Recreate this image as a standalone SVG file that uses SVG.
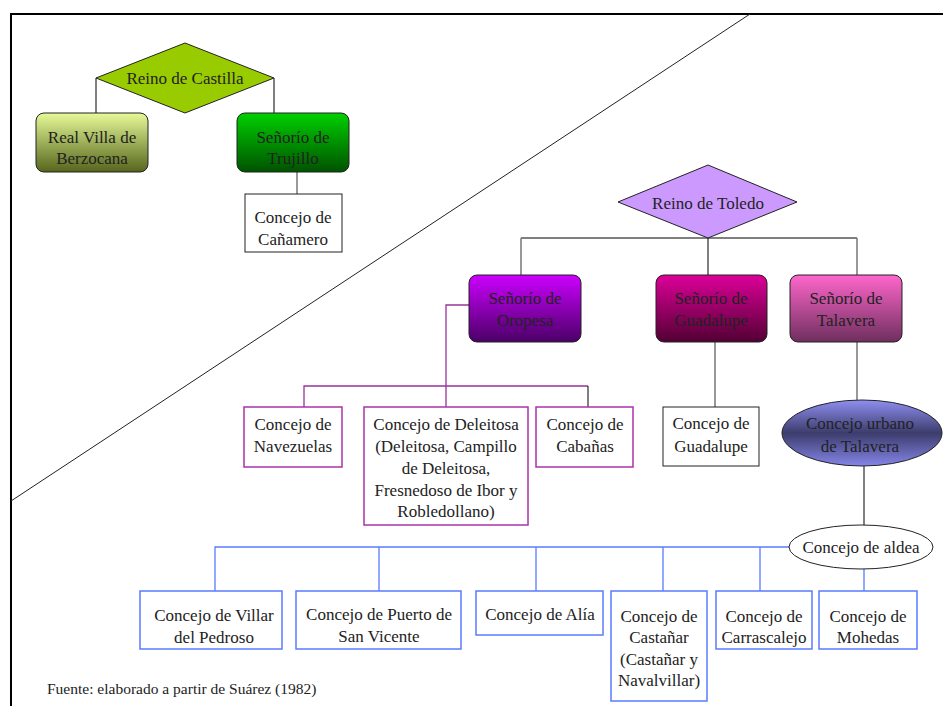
<svg xmlns="http://www.w3.org/2000/svg" width="943" height="706" viewBox="0 0 943 706">
<style>
text{font-family:"Liberation Serif","Times New Roman",serif;font-size:17px;fill:#222;text-anchor:middle}
.blk{fill:none;stroke:#000;stroke-width:1}
.gry{fill:none;stroke:#777;stroke-width:1.5}
.pur{fill:none;stroke:#993399;stroke-width:1.3}
.blu{fill:none;stroke:#5a7bff;stroke-width:1.3}
.rb{stroke:#222;stroke-width:1}
.wbox{fill:#fff;stroke:#222;stroke-width:1}
.pbox{fill:#fff;stroke:#aa33aa;stroke-width:1.5}
.bbox{fill:#fff;stroke:#5a7bff;stroke-width:1.5}
</style>
<defs>
<linearGradient id="gVilla" x1="0" y1="0" x2="0" y2="1"><stop offset="0" stop-color="#e6fa98"/><stop offset="1" stop-color="#56651c"/></linearGradient>
<linearGradient id="gTruj" x1="0" y1="0" x2="0" y2="1"><stop offset="0" stop-color="#00d000"/><stop offset="1" stop-color="#005200"/></linearGradient>
<linearGradient id="gOro" x1="0" y1="0" x2="0" y2="1"><stop offset="0" stop-color="#cc00ff"/><stop offset="1" stop-color="#4a0066"/></linearGradient>
<linearGradient id="gGua" x1="0" y1="0" x2="0" y2="1"><stop offset="0" stop-color="#dd0099"/><stop offset="1" stop-color="#520033"/></linearGradient>
<linearGradient id="gTal" x1="0" y1="0" x2="0" y2="1"><stop offset="0" stop-color="#ff66cc"/><stop offset="1" stop-color="#6e2f5e"/></linearGradient>
<linearGradient id="gUrb" x1="0" y1="0" x2="0" y2="1"><stop offset="0" stop-color="#8f8ff2"/><stop offset="0.5" stop-color="#3c3c6c"/><stop offset="1" stop-color="#8585e8"/></linearGradient>
</defs>
<rect width="943" height="706" fill="#fff"/>
<g id="frame">
<path d="M11 706 V14 H943" fill="none" stroke="#000" stroke-width="2"/>
<line x1="11" y1="501" x2="750" y2="14" stroke="#222" stroke-width="1"/>
</g>
<g id="connectors">
<path class="blk" d="M96 78 V113 M274 78 V113"/>
<path class="gry" d="M297 172 V194"/>
<path class="blk" d="M521 238 H857 M708 238 V275"/>
<path class="gry" d="M521 238 V275 M857 238 V275"/>
<path class="pur" d="M469 305 H446 V407 M304 407 V386 H588"/>
<path class="blk" d="M588 386 V407"/>
<path class="gry" d="M715 342 V407 M857 342 V400"/>
<path class="blk" d="M864 466 V525"/>
<path class="blu" d="M789 547 H215 V591 M379 547 V591 M536 547 V591 M663 547 V591 M760 547 V591 M864 569 V591"/>
</g>
<g id="castilla">
<polygon points="96,78 185,43 274,78 185,113" fill="#99cc00" class="rb"/>
<text x="185" y="84">Reino de Castilla</text>
</g>
<g id="berzocana">
<rect x="36" y="113" width="112" height="59" rx="8" fill="url(#gVilla)" class="rb"/>
<text x="92" y="143">Real Villa de</text>
<text x="92" y="164">Berzocana</text>
</g>
<g id="trujillo">
<rect x="237" y="113" width="112" height="59" rx="8" fill="url(#gTruj)" class="rb"/>
<text x="293" y="143">Señorío de</text>
<text x="293" y="164">Trujillo</text>
</g>
<g id="canamero">
<rect x="245" y="194" width="97" height="58" class="wbox"/>
<text x="293" y="223">Concejo de</text>
<text x="293" y="245">Cañamero</text>
</g>
<g id="toledo">
<polygon points="618,202 708,165 797,202 708,238" fill="#cc99ff" class="rb"/>
<text x="708" y="209">Reino de Toledo</text>
</g>
<g id="oropesa">
<rect x="469" y="275" width="112" height="67" rx="8" fill="url(#gOro)" class="rb"/>
<text x="525" y="304">Señorío de</text>
<text x="525" y="326">Oropesa</text>
</g>
<g id="guadalupe">
<rect x="656" y="275" width="111" height="67" rx="8" fill="url(#gGua)" class="rb"/>
<text x="711" y="304">Señorío de</text>
<text x="711" y="326">Guadalupe</text>
</g>
<g id="talavera">
<rect x="790" y="275" width="112" height="67" rx="8" fill="url(#gTal)" class="rb"/>
<text x="846" y="304">Señorío de</text>
<text x="846" y="326">Talavera</text>
</g>
<g id="navezuelas">
<rect x="244" y="407" width="98" height="60" class="pbox"/>
<text x="293" y="430">Concejo de</text>
<text x="293" y="452">Navezuelas</text>
</g>
<g id="deleitosa">
<rect x="364" y="407" width="164" height="118" class="pbox"/>
<text x="446" y="430">Concejo de Deleitosa</text>
<text x="446" y="452">(Deleitosa, Campillo</text>
<text x="446" y="474">de Deleitosa,</text>
<text x="446" y="496">Fresnedoso de Ibor y</text>
<text x="446" y="517">Robledollano)</text>
</g>
<g id="cabanas">
<rect x="536" y="407" width="97" height="60" class="pbox"/>
<text x="585" y="430">Concejo de</text>
<text x="585" y="452">Cabañas</text>
</g>
<g id="c-guadalupe">
<rect x="663" y="407" width="96" height="59" class="wbox"/>
<text x="711" y="429">Concejo de</text>
<text x="711" y="452">Guadalupe</text>
</g>
<g id="urbano">
<ellipse cx="862" cy="433" rx="80" ry="33" fill="url(#gUrb)" class="rb"/>
<text x="860" y="429">Concejo urbano</text>
<text x="860" y="452">de Talavera</text>
</g>
<g id="aldea">
<ellipse cx="861" cy="547" rx="72" ry="22" fill="#fff" class="rb"/>
<text x="861" y="553">Concejo de aldea</text>
</g>
<g id="villar">
<rect x="140" y="591" width="142" height="58" class="bbox"/>
<text x="214" y="621">Concejo de Villar</text>
<text x="214" y="643">del Pedroso</text>
</g>
<g id="puerto">
<rect x="296" y="591" width="165" height="58" class="bbox"/>
<text x="379" y="620">Concejo de Puerto de</text>
<text x="379" y="642">San Vicente</text>
</g>
<g id="alia">
<rect x="476" y="591" width="127" height="44" class="bbox"/>
<text x="540" y="620">Concejo de Alía</text>
</g>
<g id="castanar">
<rect x="611" y="591" width="96" height="110" class="bbox"/>
<text x="659" y="622">Concejo de</text>
<text x="659" y="643">Castañar</text>
<text x="659" y="665">(Castañar y</text>
<text x="659" y="686">Navalvillar)</text>
</g>
<g id="carrascalejo">
<rect x="716" y="591" width="96" height="58" class="bbox"/>
<text x="764" y="622">Concejo de</text>
<text x="764" y="643">Carrascalejo</text>
</g>
<g id="mohedas">
<rect x="819" y="591" width="98" height="58" class="bbox"/>
<text x="868" y="622">Concejo de</text>
<text x="868" y="643">Mohedas</text>
</g>
<text x="47" y="694" style="text-anchor:start;font-size:15.5px">Fuente: elaborado a partir de Suárez (1982)</text>
</svg>
